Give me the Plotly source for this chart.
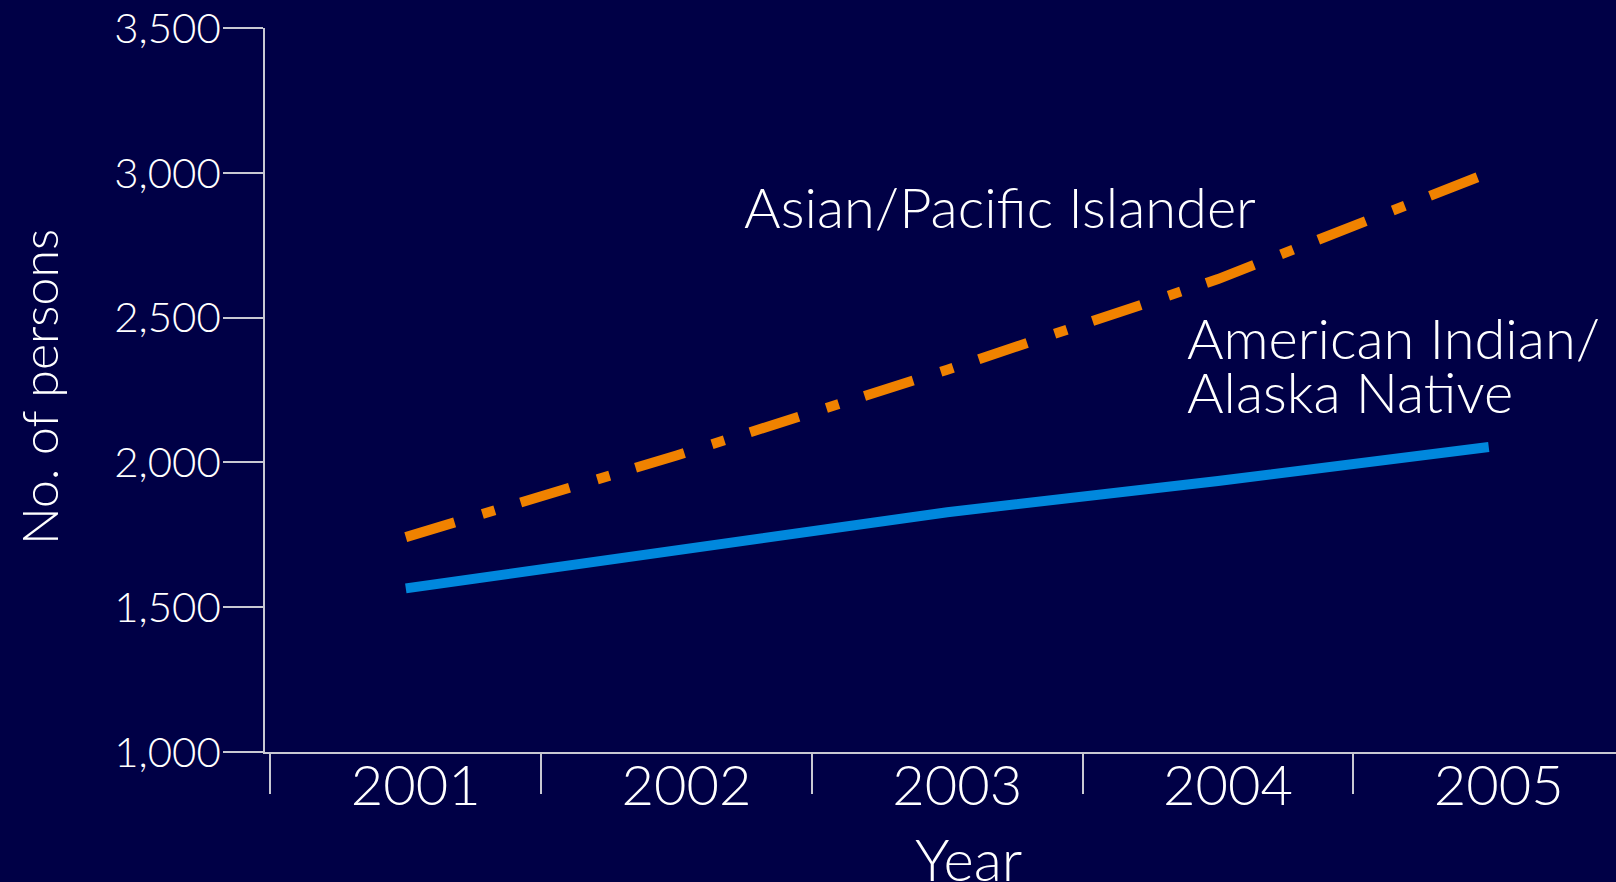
import plotly.graph_objects as go

years = ["2001", "2002", "2003", "2004", "2005"]
aian = [1565, 1697, 1828, 1936, 2053]
api = [1742, 2024, 2320, 2633, 3000]
y_ticks = [1000, 1500, 2000, 2500, 3000, 3500]

BG = "#000046"
ORANGE = "#F08200"
BLUE = "#0088DD"
AXIS = "#C8C8D2"
FONT = "Lato"

L, T, PW, PH = 265, 28, 1351, 724

fig = go.Figure()
fig.add_trace(go.Scatter(x=years, y=api, mode="lines", name="Asian/Pacific Islander",
                         line=dict(color=ORANGE, width=10, dash="51px,29px,13px,27px")))
fig.add_trace(go.Scatter(x=years, y=aian, mode="lines", name="American Indian/Alaska Native",
                         line=dict(color=BLUE, width=10)))

fig.update_layout(
    width=1616, height=882,
    paper_bgcolor=BG, plot_bgcolor=BG,
    margin=dict(l=L, r=0, t=T, b=882 - T - PH),
    showlegend=False,
    font=dict(family=FONT, color="white", weight=300),
    xaxis=dict(
        type="category", categoryorder="array", categoryarray=years,
        range=[-0.52, 4.47],
        tickson="boundaries", ticks="outside", ticklen=40, tickwidth=1.5, tickcolor=AXIS,
        showline=True, linecolor=AXIS, linewidth=2,
        showgrid=False, zeroline=False,
        tickfont=dict(size=56, family=FONT, color="white", weight=300),
        ticklabelstandoff=-16, ticklabelshift=10,
    ),
    yaxis=dict(
        range=[1000, 3500], tickvals=y_ticks, tickformat=",",
        ticks="outside", ticklen=40, tickwidth=1.5, tickcolor=AXIS,
        showline=True, linecolor=AXIS, linewidth=1.5,
        showgrid=False, zeroline=False,
        tickfont=dict(size=42, family=FONT, color="white", weight=300),
        ticklabelstandoff=-6,
    ),
)

def px_x(p):
    return (p - L) / PW

def px_y(p):
    return (T + PH - p) / PH

title_font = dict(size=50, family=FONT, color="white", weight=300)
fig.add_annotation(text="No. of persons", xref="paper", yref="paper",
                   x=px_x(39), y=px_y(387), xanchor="center", yanchor="middle",
                   textangle=-90, showarrow=False, font=title_font)
fig.add_annotation(text="Year", xref="paper", yref="paper",
                   x=px_x(969), y=px_y(858), xanchor="center", yanchor="middle",
                   showarrow=False, font=dict(size=58, family=FONT, color="white", weight=300))

ann_font = dict(size=56, family=FONT, color="white", weight=300)
fig.add_annotation(text="Asian/Pacific Islander", xref="paper", yref="paper",
                   x=px_x(742), y=px_y(207), xanchor="left", yanchor="middle",
                   showarrow=False, font=ann_font)
fig.add_annotation(text="American Indian/", xref="paper", yref="paper",
                   x=px_x(1185), y=px_y(337), xanchor="left", yanchor="middle",
                   showarrow=False, font=ann_font)
fig.add_annotation(text="Alaska Native", xref="paper", yref="paper",
                   x=px_x(1185), y=px_y(392), xanchor="left", yanchor="middle",
                   showarrow=False, font=ann_font)

fig.write_html("out.html", config={"displayModeBar": False},
               post_script="document.body.style.margin='0';document.body.style.overflow='hidden';"
                           "document.body.style.background='" + BG + "';")
